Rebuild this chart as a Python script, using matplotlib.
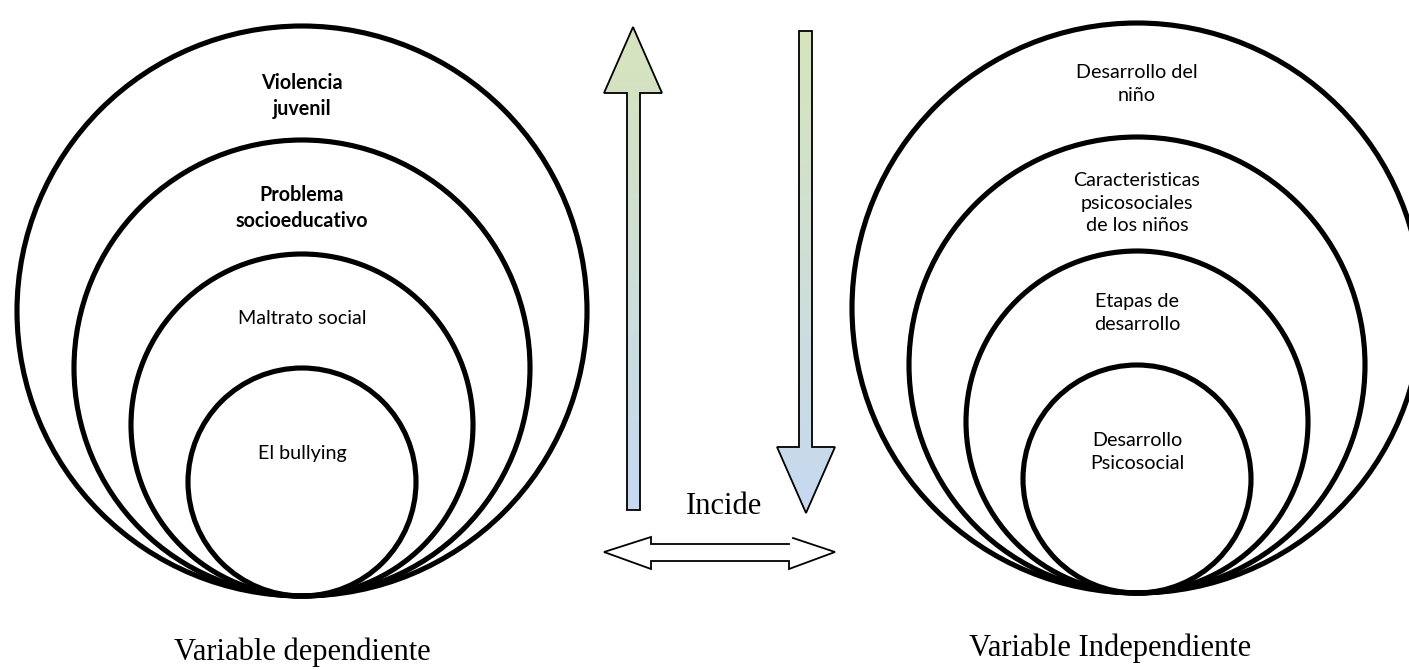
import numpy as np
import matplotlib
matplotlib.use("Agg")
import matplotlib.pyplot as plt
from matplotlib.patches import Circle, Polygon
from matplotlib.colors import LinearSegmentedColormap

# ---- content ----
left_labels = ["Violencia\njuvenil", "Problema\nsocioeducativo", "Maltrato social", "El bullying"]
left_bold = [True, True, False, False]
left_label_y = [96, 208, 318, 453]
right_labels = ["Desarrollo del\nniño", "Caracteristicas\npsicosociales\nde los niños",
                "Etapas de\ndesarrollo", "Desarrollo\nPsicosocial"]
right_label_y = [84, 203, 313, 452]
radii = [285, 228, 171, 114]
left_center_x, left_bottom = 302, 596
right_center_x, right_bottom = 1137, 593
caption_left = "Variable dependiente"
caption_right = "Variable Independiente"
middle_label = "Incide"

W, H = 1409, 670
fig = plt.figure(figsize=(W / 100, H / 100), dpi=100)
ax = fig.add_axes([0, 0, 1, 1])
ax.set_xlim(0, W)
ax.set_ylim(H, 0)
ax.axis("off")

sans = ["Lato", "DejaVu Sans"]
serif = ["Liberation Serif", "DejaVu Serif"]

def draw_circles(cx, bottom):
    for r in radii:
        ax.add_patch(Circle((cx, bottom - r), r, fill=False, lw=3.7, ec="black", zorder=2))

draw_circles(left_center_x, left_bottom)
draw_circles(right_center_x, right_bottom)

for lab, y, b in zip(left_labels, left_label_y, left_bold):
    ax.text(left_center_x, y, lab, ha="center", va="center", family=sans,
            fontsize=14.2, fontweight="bold" if b else "normal", linespacing=1.4, zorder=3)
for lab, y in zip(right_labels, right_label_y):
    ax.text(right_center_x, y, lab, ha="center", va="center", family=sans,
            fontsize=14.2, linespacing=1.4, zorder=3)

# ---- gradient arrows ----
cmap = LinearSegmentedColormap.from_list("gb", ["#d7e4bd", "#c6d9f1"])

def gradient_arrow(pts, y0, y1):
    poly = Polygon(pts, closed=True, fc="none", ec="black", lw=1.3, zorder=5)
    ax.add_patch(poly)
    xs = [p[0] for p in pts]
    grad = np.linspace(0, 1, 256).reshape(-1, 1)
    im = ax.imshow(grad, cmap=cmap, extent=(min(xs), max(xs), y1, y0),
                   aspect="auto", zorder=4, interpolation="bilinear")
    clip = Polygon(pts, closed=True, transform=ax.transData)
    im.set_clip_path(clip)

up_pts = [(633, 27), (662, 93), (640, 93), (640, 510), (627, 510), (627, 93), (604, 93)]
gradient_arrow(up_pts, 27, 510)
down_pts = [(799, 31), (812, 31), (812, 447), (835, 447), (806, 513), (777, 447), (799, 447)]
gradient_arrow(down_pts, 31, 513)
ax.set_xlim(0, W)
ax.set_ylim(H, 0)

# ---- double arrow ----
dbl = [(604, 552), (651, 537), (651, 544), (789, 544), (793, 538), (835, 552),
       (789, 569), (789, 561), (651, 561), (651, 569)]
ax.add_patch(Polygon(dbl, closed=True, fc="white", ec="none", zorder=4))
seg1 = [(789, 544), (651, 544), (651, 537), (604, 552), (651, 569), (651, 561),
        (789, 561), (789, 569), (835, 552), (793, 538)]
ax.plot([p[0] for p in seg1], [p[1] for p in seg1], color="black", lw=1.3, zorder=5,
        solid_joinstyle="miter")

ax.text(724, 506, middle_label, ha="center", va="center", family=serif, fontsize=22, zorder=6)
ax.text(302, 652, caption_left, ha="center", va="center", family=serif, fontsize=22)
ax.text(1110, 648, caption_right, ha="center", va="center", family=serif, fontsize=22)

fig.savefig("out.png", dpi=100)
